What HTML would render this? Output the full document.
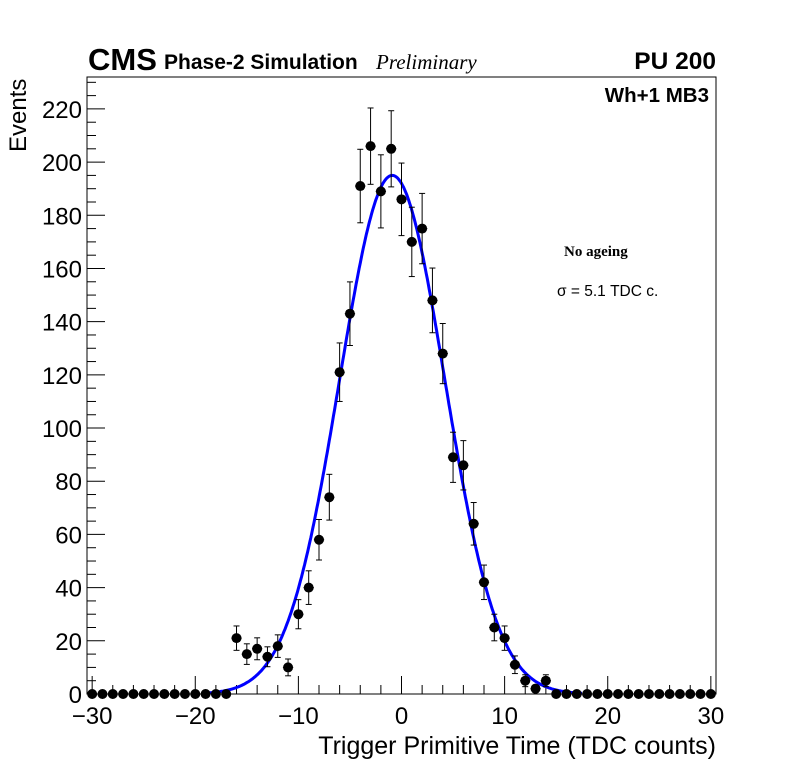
<!DOCTYPE html>
<html><head><meta charset="utf-8"><style>
body{margin:0;background:#fff}
svg text{font-family:"Liberation Sans",sans-serif}
</style></head><body>
<svg id="chart" width="796" height="772" viewBox="0 0 796 772">
<rect width="796" height="772" fill="#fff"/>
<g id="axes"></g>
<g id="marks"></g>
<text x="88" y="70" font-size="31" font-weight="bold">CMS</text>
<text x="164" y="69" font-size="21" font-weight="bold">Phase-2 Simulation</text>
<text x="376" y="69" font-size="21" font-style="italic" style="font-family:'Liberation Serif',serif">Preliminary</text>
<text x="716" y="69" font-size="24.5" font-weight="bold" text-anchor="end">PU 200</text>
<text x="709" y="102" font-size="20.5" font-weight="bold" text-anchor="end">Wh+1 MB3</text>
<text x="564" y="256" font-size="15" font-weight="bold" style="font-family:'Liberation Serif',serif">No ageing</text>
<text x="557" y="296" font-size="15.5">σ = 5.1 TDC c.</text>
<text x="716" y="754" font-size="25" text-anchor="end">Trigger Primitive Time (TDC counts)</text>
<text transform="translate(26,152) rotate(-90)" font-size="24">Events</text>
</svg>
<script>
const xs=[-30,-29,-28,-27,-26,-25,-24,-23,-22,-21,-20,-19,-18,-17,-16,-15,-14,-13,-12,-11,-10,-9,-8,-7,-6,-5,-4,-3,-2,-1,0,1,2,3,4,5,6,7,8,9,10,11,12,13,14,15,16,17,18,19,20,21,22,23,24,25,26,27,28,29,30];
const counts=[0,0,0,0,0,0,0,0,0,0,0,0,0,0,21,15,17,14,18,10,30,40,58,74,121,143,191,206,189,205,186,170,175,148,128,89,86,64,42,25,21,11,5,2,5,0,0,0,0,0,0,0,0,0,0,0,0,0,0,0,0];
const xTicks=[-30,-20,-10,0,10,20,30];
const yTicks=[0,20,40,60,80,100,120,140,160,180,200,220];
const fitAmp=[195];const fitMean=[-0.9];const fitSigma=[5.1];
const L=87,R=716,T=77,B=694,xmin=-30.5,xmax=30.5,ymax=232;
const X=v=>L+(v-xmin)/(xmax-xmin)*(R-L);
const Y=v=>B-v/ymax*(B-T);
const NS='http://www.w3.org/2000/svg';
function mk(p,t,a){const e=document.createElementNS(NS,t);for(const k in a)e.setAttribute(k,a[k]);p.appendChild(e);return e;}
const ax=document.getElementById('axes'),mg=document.getElementById('marks');
const fr=mk(ax,'rect',{x:L,y:T,width:R-L,height:B-T,fill:'none',stroke:'#000','stroke-width':1});


for(let v=-30;v<=30;v+=2){const maj=v%10===0;mk(ax,'line',{x1:X(v),x2:X(v),y1:B,y2:B-(maj?18:9),stroke:'#000'});}
for(let v=0;v<=230;v+=5){const maj=v%20===0;mk(ax,'line',{x1:L,x2:L+(maj?18:9),y1:Y(v),y2:Y(v),stroke:'#000'});}
xTicks.forEach(v=>{const t=mk(ax,'text',{x:X(v),y:724,'font-size':24,'text-anchor':'middle'});t.textContent=v<0?'\u2212'+(-v):v;

});
yTicks.forEach(v=>{const t=mk(ax,'text',{x:82,y:Y(v)+9,'font-size':24,'text-anchor':'end'});t.textContent=v;

});
let d='';for(let v=-19;v<=17.5;v+=0.1){const y=fitAmp[0]*Math.exp(-0.5*Math.pow((v-fitMean[0])/fitSigma[0],2));d+=(d?'L':'M')+X(v).toFixed(1)+','+Y(y).toFixed(1);}
const fit=mk(mg,'path',{d:d,fill:'none',stroke:'#0000ff','stroke-width':3});


xs.forEach((x,i)=>{const n=counts[i];const g=mk(mg,'g',{});


const cx=X(x),cy=Y(n);
if(n>0){const e=Math.sqrt(n);mk(g,'line',{x1:cx,x2:cx,y1:Y(n+e),y2:Y(n-e),stroke:'#000'});
mk(g,'line',{x1:cx-3,x2:cx+3,y1:Y(n+e),y2:Y(n+e),stroke:'#000'});mk(g,'line',{x1:cx-3,x2:cx+3,y1:Y(n-e),y2:Y(n-e),stroke:'#000'});}
mk(g,'line',{x1:X(x-0.5),x2:X(x+0.5),y1:cy,y2:cy,stroke:'#000'});
mk(g,'circle',{cx:cx,cy:cy,r:5,fill:'#000'});});
</script>
</body></html>
